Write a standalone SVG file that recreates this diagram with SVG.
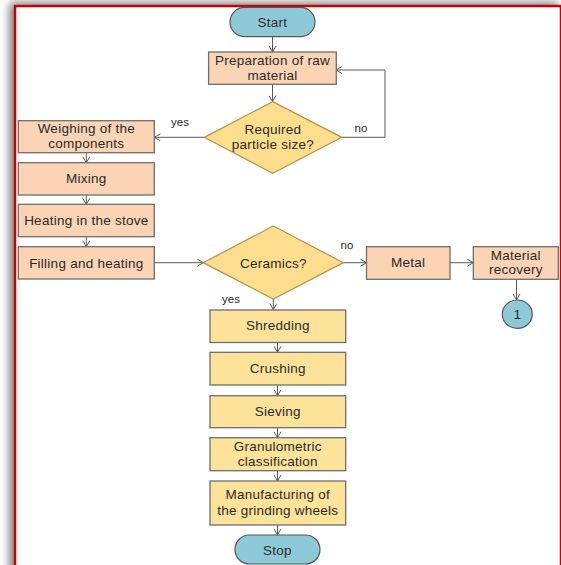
<svg xmlns="http://www.w3.org/2000/svg" width="561" height="565" viewBox="0 0 561 565">
<defs>
<filter id="sh" x="-10%" y="-10%" width="120%" height="120%">
<feDropShadow dx="-4" dy="-2" stdDeviation="5" flood-color="#555" flood-opacity="0.8"/>
</filter>
<marker id="ah" markerWidth="8" markerHeight="8" refX="7" refY="4" orient="auto" markerUnits="userSpaceOnUse">
<path d="M1,0.5 L7,4 L1,7.5" fill="none" stroke="#5a5a5a" stroke-width="1"/>
</marker>
</defs>
<style>
text{font-family:"Liberation Sans",Arial,sans-serif;font-size:13.5px;letter-spacing:0.25px;fill:#2b2b2b;text-anchor:middle}
.lbl{font-size:11.5px;letter-spacing:0}
.term{fill:#8EC9D7;stroke:#555;stroke-width:1.2}
.peach{fill:#FAD4B5;stroke:#6e6e6e;stroke-width:1.3}
.yel{fill:#FDE29A;stroke:#6e6e6e;stroke-width:1.3}
.dia{fill:#FDDE8E;stroke:#B8964E;stroke-width:1.3}
.con path{fill:none;stroke:#5a5a5a;stroke-width:1;marker-end:url(#ah)}
</style>
<rect x="0" y="0" width="561" height="565" fill="#fff"/>
<rect x="15" y="6" width="546" height="580" fill="#fff" stroke="#CC0000" stroke-width="2.5" filter="url(#sh)"/>

<g class="con">
<path d="M272.5,37 V52"/>
<path d="M272.5,84 V101.5"/>
<path d="M341.7,137.3 H385 V70 H336"/>
<path d="M204.3,137.3 H154.3"/>
<path d="M86.3,152.7 V162.7"/>
<path d="M86.3,195 V204.3"/>
<path d="M86.3,236.7 V246.7"/>
<path d="M154.3,262.7 H203.3"/>
<path d="M343.3,262.7 H366.5"/>
<path d="M450,262.7 H473.3"/>
<path d="M516.5,279.3 V300"/>
<path d="M273.3,299 V309.5"/>
<path d="M277.5,342.5 V352.3"/>
<path d="M277.5,385 V395.7"/>
<path d="M277.5,427.7 V437.7"/>
<path d="M277.5,470.7 V481"/>
<path d="M277.5,525 V535"/>
</g>

<g id="start"><rect class="term" x="230" y="7.3" width="85" height="29.4" rx="14.7"/><text x="272.5" y="27">Start</text></g>
<g id="prep"><rect class="peach" x="208.6" y="52" width="127.7" height="32.3"/><text x="272.5" y="65.2">Preparation of raw</text><text x="272.5" y="79.7">material</text></g>
<g id="d1"><polygon class="dia" points="272.7,101.7 341.7,137.3 272.7,173.3 204.3,137.3"/><text x="273" y="134">Required</text><text x="273" y="148.5">particle size?</text></g>
<g id="weigh"><rect class="peach" x="18.3" y="120.7" width="136" height="32"/><text x="86.3" y="133.3">Weighing of the</text><text x="86.3" y="147.8">components</text></g>
<g id="mix"><rect class="peach" x="18.3" y="162.7" width="136" height="32.3"/><text x="86.3" y="183">Mixing</text></g>
<g id="heat"><rect class="peach" x="18.3" y="204.3" width="136" height="32.4"/><text x="86.3" y="225">Heating in the stove</text></g>
<g id="fill"><rect class="peach" x="18.3" y="246.7" width="136" height="32.3"/><text x="86.3" y="267.5">Filling and heating</text></g>
<g id="d2"><polygon class="dia" points="273.3,226 343.3,262.7 273.3,299 203.3,262.7"/><text x="273.3" y="267.5">Ceramics?</text></g>
<g id="metal"><rect class="peach" x="366.5" y="246.7" width="83.5" height="32.6"/><text x="408.2" y="267.3">Metal</text></g>
<g id="recov"><rect class="peach" x="473.3" y="246.7" width="85" height="32.6"/><text x="515.8" y="259.5">Material</text><text x="515.8" y="274">recovery</text></g>
<g id="c1"><ellipse class="term" cx="517.3" cy="314.2" rx="15" ry="14.2"/><text x="517.3" y="319">1</text></g>
<g id="shred"><rect class="yel" x="210" y="310" width="135.7" height="32.5"/><text x="277.8" y="330">Shredding</text></g>
<g id="crush"><rect class="yel" x="210" y="352.3" width="135.7" height="32.7"/><text x="277.8" y="373">Crushing</text></g>
<g id="sieve"><rect class="yel" x="210" y="395.7" width="135.7" height="32"/><text x="277.8" y="415.5">Sieving</text></g>
<g id="gran"><rect class="yel" x="210" y="437.7" width="135.7" height="33"/><text x="277.8" y="451">Granulometric</text><text x="277.8" y="465.5">classification</text></g>
<g id="manu"><rect class="yel" x="210" y="481" width="135.7" height="44"/><text x="277.8" y="499">Manufacturing of</text><text x="277.8" y="514.5">the grinding wheels</text></g>
<g id="stop"><rect class="term" x="235" y="535" width="85" height="29" rx="14.5"/><text x="277.5" y="555">Stop</text></g>

<g id="labels">
<text class="lbl" x="180" y="125.5">yes</text>
<text class="lbl" x="361" y="131.5">no</text>
<text class="lbl" x="347" y="249">no</text>
<text class="lbl" x="231" y="303">yes</text>
</g>
</svg>
